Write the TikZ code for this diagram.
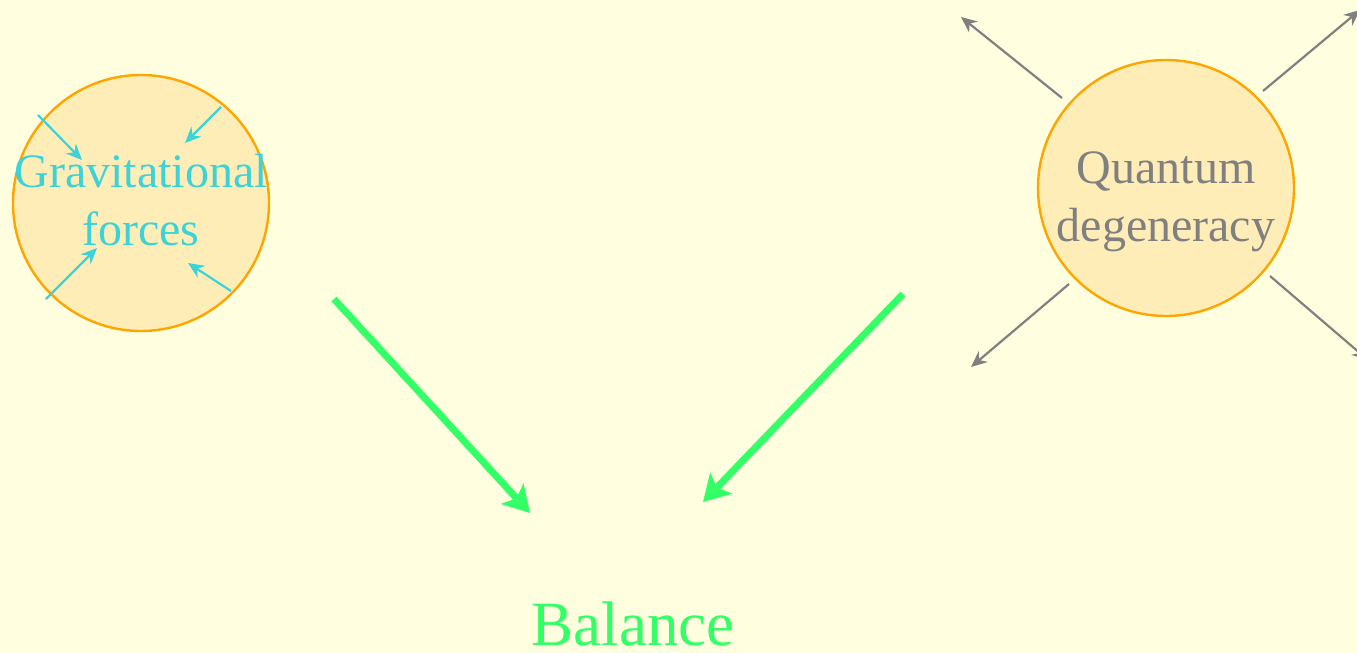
\documentclass[tikz,border=0pt]{standalone}
\usepackage{fontspec}
\setmainfont{Liberation Serif}
\usetikzlibrary{arrows.meta}
\definecolor{bg}{HTML}{FFFFDF}
\definecolor{circfill}{HTML}{FFEDB8}
\definecolor{circline}{HTML}{FFA500}
\definecolor{cyantxt}{HTML}{3CD3D8}
\definecolor{graytxt}{HTML}{808080}
\definecolor{greentxt}{HTML}{33FF66}
\tikzset{
  ball/.style={circle, draw=circline, fill=circfill, line width=2.4pt, minimum size=256pt, inner sep=0pt},
  bigtext/.style={font=\fontsize{48}{58}\selectfont, anchor=base, inner sep=0pt},
  inarrow/.style={draw=cyantxt, line width=2.2pt, -{Stealth[length=16pt,width=14pt]}},
  outarrow/.style={draw=graytxt, line width=2.2pt, -{Stealth[length=16pt,width=14pt]}},
  bigarrow/.style={draw=greentxt, line width=7pt, -{Stealth[length=26pt,width=30pt,inset=6pt]}}
}
\begin{document}
\begin{tikzpicture}[x=1pt,y=-1pt]
\fill[bg] (0,0) rectangle (1357,653);
\useasboundingbox (0,0) rectangle (1357,653);
% left circle
\node[ball] (grav) at (141,203) {};
\node[bigtext, text=cyantxt] (grav1) at (141,187) {Gravitational};
\node[bigtext, text=cyantxt] (grav2) at (141,245) {forces};
\coordinate (g1s) at (38,115); \coordinate (g1e) at (82,160);
\coordinate (g2s) at (221,107); \coordinate (g2e) at (185,143);
\coordinate (g3s) at (46,299); \coordinate (g3e) at (97,248);
\coordinate (g4s) at (231,291); \coordinate (g4e) at (188,263);
\draw[inarrow] (g1s) -- (g1e);
\draw[inarrow] (g2s) -- (g2e);
\draw[inarrow] (g3s) -- (g3e);
\draw[inarrow] (g4s) -- (g4e);
% right circle
\node[ball] (quant) at (1166,188) {};
\node[bigtext, text=graytxt] (quant1) at (1166,183) {Quantum};
\node[bigtext, text=graytxt] (quant2) at (1166,241) {degeneracy};
\coordinate (q1s) at (1062,98); \coordinate (q1e) at (961,17);
\coordinate (q2s) at (1263,91); \coordinate (q2e) at (1360,10);
\coordinate (q3s) at (1069,284); \coordinate (q3e) at (971,367);
\coordinate (q4s) at (1270,276); \coordinate (q4e) at (1368,360);
\draw[outarrow] (q1s) -- (q1e);
\draw[outarrow] (q2s) -- (q2e);
\draw[outarrow] (q3s) -- (q3e);
\draw[outarrow] (q4s) -- (q4e);
% balance
\node[font=\fontsize{63}{70}\selectfont, text=greentxt, anchor=base, inner sep=0pt] (bal) at (633,645) {Balance};
\coordinate (a1s) at (334,299); \coordinate (a1e) at (530,513);
\coordinate (a2s) at (903,294); \coordinate (a2e) at (703,502);
\draw[bigarrow] (a1s) -- (a1e);
\draw[bigarrow] (a2s) -- (a2e);
\end{tikzpicture}
\end{document}
